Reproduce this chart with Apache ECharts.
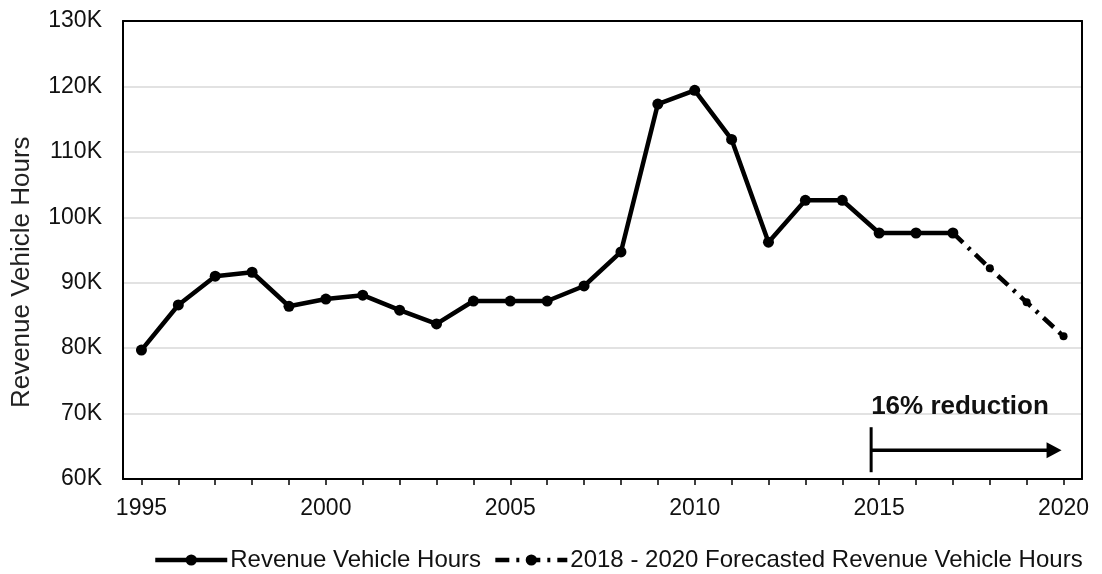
<!DOCTYPE html>
<html>
<head>
<meta charset="utf-8">
<script src="https://cdn.jsdelivr.net/npm/echarts@6/dist/echarts.min.js"></script>
<style>html,body{margin:0;padding:0;background:#fff;}#c{width:1102px;height:574px;}</style>
</head>
<body>
<div id="c"></div>
<script>
const years = ['1995','1996','1997','1998','1999','2000','2001','2002','2003','2004','2005','2006','2007','2008','2009','2010','2011','2012','2013','2014','2015','2016','2017','2018','2019','2020'];
const actualHours = [79700, 86600, 91000, 91600, 86400, 87500, 88100, 85800, 83700, 87200, 87200, 87200, 89500, 94700, 117300, 119400, 111900, 96200, 102600, 102600, 97600, 97600, 97600, null, null, null];
const forecastHours = [null, null, null, null, null, null, null, null, null, null, null, null, null, null, null, null, null, null, null, null, null, null, 97600, 92200, 87000, 81800];
const yTicks = {min: 60000, max: 130000, step: 10000};
const yTitle = 'Revenue Vehicle Hours';
const annotationText = '16% reduction';

const chart = echarts.init(document.getElementById('c'));
const font = 'Liberation Sans, Arial, sans-serif';
chart.setOption({
  animation: false,
  grid: {left: 123, right: 20, top: 21, bottom: 95, show: false, containLabel: false},
  legend: {
    top: 543, left: 148, itemWidth: 72, itemHeight: 14, itemGap: 12,
    lineStyle: {width: 4.5},
    textStyle: {fontFamily: font, fontSize: 24, color: '#111', padding: [0, 0, 0, -2]},
    data: ['Revenue Vehicle Hours', '2018 - 2020 Forecasted Revenue Vehicle Hours']
  },
  xAxis: [{
    type: 'category', data: years, boundaryGap: true,
    axisLine: {lineStyle: {color: '#000', width: 2}},
    axisTick: {show: true, interval: 0, alignWithLabel: true, length: 6, lineStyle: {color: '#000', width: 1.5}},
    axisLabel: {interval: 4, fontFamily: font, fontSize: 23, color: '#111', margin: 18},
    splitLine: {show: false}
  }, {
    type: 'category', data: years, position: 'top', boundaryGap: true,
    axisLine: {lineStyle: {color: '#000', width: 2}},
    axisTick: {show: false}, axisLabel: {show: false}, splitLine: {show: false}
  }],
  yAxis: [{
    type: 'value', min: yTicks.min, max: yTicks.max, interval: yTicks.step,
    axisLine: {show: true, lineStyle: {color: '#000', width: 2}},
    axisTick: {show: false},
    axisLabel: {fontFamily: font, fontSize: 23, color: '#111', margin: 21, formatter: v => (v / 1000) + 'K'},
    splitLine: {showMinLine: false, showMaxLine: false, lineStyle: {color: '#d9d9d9', width: 1.5}}
  }, {
    type: 'value', min: yTicks.min, max: yTicks.max, interval: yTicks.step, position: 'right',
    axisLine: {show: true, lineStyle: {color: '#000', width: 2}},
    axisTick: {show: false}, axisLabel: {show: false}, splitLine: {show: false}
  }],
  series: [
    {
      name: 'Revenue Vehicle Hours', type: 'line', data: actualHours,
      symbol: 'circle', symbolSize: 11, connectNulls: false,
      lineStyle: {color: '#000', width: 4.5},
      itemStyle: {color: '#000'}, z: 2
    },
    {
      name: '2018 - 2020 Forecasted Revenue Vehicle Hours', type: 'line', data: forecastHours,
      symbol: 'circle', symbolSize: 8,
      lineStyle: {color: '#000', width: 4.5, type: [14, 7, 3, 7], cap: 'butt'},
      itemStyle: {color: '#000'}, z: 3
    }
  ]
});

// annotation and axis title anchored to the axis scale
function drawAnnotation() {
  const pText = chart.convertToPixel({xAxisIndex: 0, yAxisIndex: 0}, ['2015', 70000]);
  const p2020 = chart.convertToPixel({xAxisIndex: 0, yAxisIndex: 0}, ['2020', 64400]);
  const pTitle = chart.convertToPixel({xAxisIndex: 0, yAxisIndex: 0}, ['1995', 91600]);
  const x0 = pText[0] - 8;
  const x1 = p2020[0] - 2;
  const yArrow = p2020[1];
  chart.setOption({
    graphic: [
      {type: 'text', x: 22, y: pTitle[1], rotation: Math.PI / 2,
        style: {text: yTitle, font: '26px ' + font, fill: '#222', textAlign: 'center', textVerticalAlign: 'middle'}},
      {type: 'line', shape: {x1: x0, y1: yArrow - 23, x2: x0, y2: yArrow + 22}, style: {stroke: '#000', lineWidth: 3}},
      {type: 'line', shape: {x1: x0, y1: yArrow, x2: x1 - 14, y2: yArrow}, style: {stroke: '#000', lineWidth: 3.5}},
      {type: 'polygon', shape: {points: [[x1 - 15, yArrow - 8], [x1, yArrow], [x1 - 15, yArrow + 8]]}, style: {fill: '#000'}},
      {type: 'text', x: x0, y: pText[1] - 7, style: {text: annotationText, font: 'bold 26px ' + font, fill: '#111', textVerticalAlign: 'middle'}}
    ]
  });
}
drawAnnotation();
</script>
</body>
</html>
